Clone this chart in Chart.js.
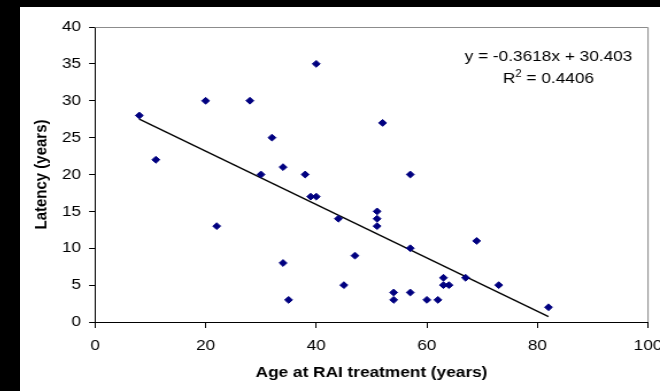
<!DOCTYPE html>
<html>
<head>
<meta charset="utf-8">
<script src="https://cdn.jsdelivr.net/npm/chart.js@4.4.0/dist/chart.umd.min.js"></script>
<style>
  html, body { margin: 0; padding: 0; background: #000; }
  body { width: 660px; height: 391px; overflow: hidden; position: relative; }
  #panel { position: absolute; left: 20px; top: 7px; width: 640px; height: 384px; background: #fff; overflow: hidden; }
  #wrap { width: 557px; height: 384px; transform: scaleX(1.149); transform-origin: 0 0; }
</style>
</head>
<body>
<div id="panel"><div id="wrap"><canvas id="latencyChart"></canvas></div></div>
<script>
// age at RAI treatment (x) and latency (y), one entry per patient
const ageAtTreatment = [8, 11, 20, 22, 28, 30, 32, 34, 34, 35, 38, 39, 40, 40, 44, 45, 47, 51, 51, 51, 52, 54, 54, 57, 57, 57, 60, 62, 63, 63, 64, 67, 69, 73, 82]
const latencyYears   = [28, 22, 30, 13, 30, 20, 25, 21, 8, 3, 20, 17, 17, 35, 14, 5, 9, 15, 14, 13, 27, 4, 3, 20, 10, 4, 3, 3, 6, 5, 5, 6, 11, 5, 2]

// linear trend as printed on the chart
const trendSlope = -0.3618
const trendIntercept = 30.403
const rSquaredText = '0.4406'

const xRange = [0, 100]
const xStep = 20
const yRange = [0, 40]
const yStep = 5

const FONT = '"Liberation Sans", Arial, sans-serif'

const points = ageAtTreatment.map((age, i) => ({ x: age, y: latencyYears[i] }))
const minAge = Math.min(...ageAtTreatment)
const maxAge = Math.max(...ageAtTreatment)
const trendPoints = [minAge, maxAge].map(x => ({ x: x, y: trendSlope * x + trendIntercept }))

// top + right frame of the plot area (grey), left/bottom come from the axes
const frameLines = {
    id: 'frameLines',
    beforeDatasetsDraw(chart) {
        const { ctx, chartArea: a } = chart
        ctx.save()
        ctx.strokeStyle = '#8c8c8c'
        ctx.lineWidth = 1
        ctx.beginPath()
        ctx.moveTo(a.left, a.top + 0.5)
        ctx.lineTo(a.right, a.top + 0.5)
        ctx.lineTo(a.right, a.bottom)
        ctx.stroke()
        ctx.restore()
    }
}

// equation + R squared text in the upper right
const trendLabel = {
    id: 'trendLabel',
    afterDraw(chart) {
        const { ctx, scales } = chart
        const cx = scales.x.getPixelForValue(82)
        const y1 = scales.y.getPixelForValue(35.9)
        const y2 = scales.y.getPixelForValue(32.95)
        ctx.save()
        ctx.fillStyle = '#000'
        ctx.textBaseline = 'middle'
        ctx.textAlign = 'center'
        ctx.font = '15px ' + FONT
        const sign = trendIntercept >= 0 ? ' + ' : ' - '
        ctx.fillText('y = ' + trendSlope + 'x' + sign + Math.abs(trendIntercept), cx, y1)

        ctx.textAlign = 'left'
        const big = '15px ' + FONT
        const small = '10px ' + FONT
        ctx.font = big
        const wR = ctx.measureText('R').width
        const wRest = ctx.measureText(' = ' + rSquaredText).width
        ctx.font = small
        const w2 = ctx.measureText('2').width
        let x = cx - (wR + w2 + wRest) / 2
        ctx.font = big
        ctx.fillText('R', x, y2)
        x += wR
        ctx.font = small
        ctx.fillText('2', x, y2 - 5)
        x += w2
        ctx.font = big
        ctx.fillText(' = ' + rSquaredText, x, y2)
        ctx.restore()
    }
}

const ctx = document.getElementById('latencyChart')
new Chart(ctx, {
    type: 'scatter',
    data: {
        datasets: [
            {
                label: 'Latency',
                data: points,
                pointStyle: 'rectRot',
                pointRadius: 3.4,
                pointBackgroundColor: '#000080',
                pointBorderColor: '#000080',
                pointBorderWidth: 1,
                order: 1
            },
            {
                type: 'line',
                label: 'Linear trend',
                data: trendPoints,
                borderColor: '#000',
                borderWidth: 1.3,
                pointRadius: 0,
                fill: false,
                order: 2
            }
        ]
    },
    plugins: [frameLines, trendLabel],
    options: {
        responsive: true,
        maintainAspectRatio: false,
        animation: false,
        layout: { padding: { left: 0, top: 20, right: 10.4, bottom: 0 } },
        plugins: {
            legend: { display: false },
            tooltip: { enabled: false }
        },
        scales: {
            x: {
                type: 'linear',
                min: xRange[0],
                max: xRange[1],
                ticks: { stepSize: xStep, color: '#000', padding: 9, font: { family: FONT, size: 15 } },
                grid: { drawOnChartArea: false, tickLength: 6, color: '#000' },
                border: { color: '#000' },
                title: {
                    display: true,
                    text: 'Age at RAI treatment (years)',
                    color: '#000',
                    font: { family: FONT, size: 15, weight: 'bold' },
                    padding: { top: 0, bottom: 9 }
                },
                afterFit: s => { s.height = 69; s.paddingLeft = 0; s.paddingRight = 0 }
            },
            y: {
                type: 'linear',
                min: yRange[0],
                max: yRange[1],
                ticks: { stepSize: yStep, color: '#000', padding: 7, font: { family: FONT, size: 15 } },
                grid: { drawOnChartArea: false, tickLength: 5.2, color: '#000' },
                border: { color: '#000' },
                title: {
                    display: true,
                    text: 'Latency (years)',
                    color: '#000',
                    font: { family: FONT, size: 15, weight: 'bold' },
                    padding: { top: 9.7, bottom: 0 }
                },
                afterFit: s => { s.width = 65.3; s.paddingTop = 0; s.paddingBottom = 0 }
            }
        }
    }
})
</script>
</body>
</html>
